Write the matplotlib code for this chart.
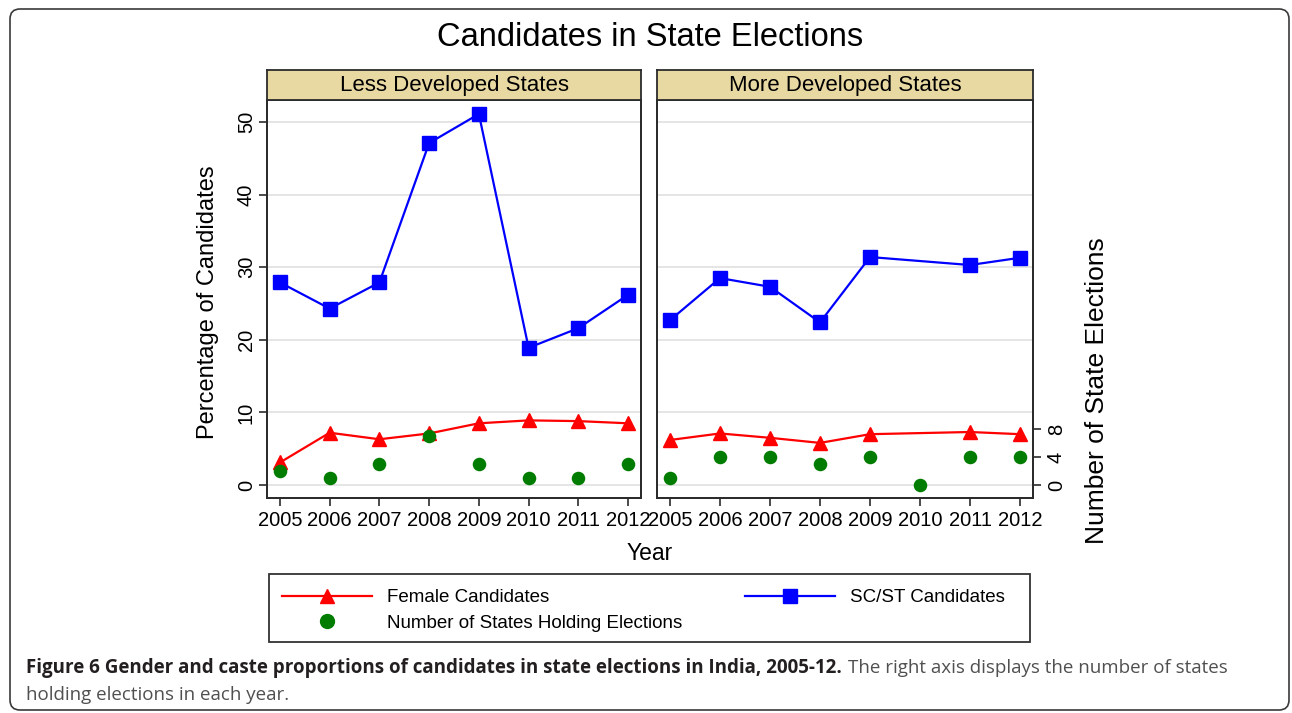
import numpy as np
import matplotlib.pyplot as plt
from matplotlib.patches import FancyBboxPatch, Rectangle
from matplotlib.lines import Line2D

plt.rcParams['font.family'] = ['Liberation Sans', 'DejaVu Sans']

years = [2005, 2006, 2007, 2008, 2009, 2010, 2011, 2012]
panel_titles = ['Less Developed States', 'More Developed States']

# percentage of candidates (left axis); nan = no value that year
scst = [
    [27.9, 24.3, 27.9, 47.1, 51.1, 18.9, 21.6, 26.2],
    [22.7, 28.5, 27.3, 22.4, 31.4, np.nan, 30.3, 31.3],
]
female = [
    [3.1, 7.2, 6.3, 7.1, 8.5, 8.9, 8.8, 8.5],
    [6.2, 7.1, 6.5, 5.8, 7.0, np.nan, 7.3, 7.0],
]
# number of states holding elections (right axis)
n_states = [
    [2, 1, 3, 7, 3, 1, 1, 3],
    [1, 4, 4, 3, 4, 0, 4, 4],
]

W, H = 1292, 713
fig = plt.figure(figsize=(W / 100, H / 100), dpi=100)


def box(x0, y0, x1, y1):
    # pixel box (top-left origin) -> figure fraction rect
    return [x0 / W, 1 - y1 / H, (x1 - x0) / W, (y1 - y0) / H]


def fpt(x, y):
    return (x / W, 1 - y / H)


# background axes in pixel units for the frames
bg = fig.add_axes([0, 0, 1, 1])
bg.set_xlim(0, W)
bg.set_ylim(H, 0)
bg.axis('off')
bg.add_patch(FancyBboxPatch((10, 9), 1279, 701, boxstyle='round,pad=0,rounding_size=10',
                            fc='none', ec='#3a3a3a', lw=1.2))
bg.add_patch(Rectangle((269, 574), 761, 68, fc='white', ec='#333333', lw=1.3))

SPINE = '#2b2b2b'
panel_px = [(267, 641), (657, 1033)]
x_years = np.array(years)

for i, (x0, x1) in enumerate(panel_px):
    ax = fig.add_axes(box(x0, 100, x1, 498))
    ax.set_xlim(2004.74, 2012.26)
    ax.set_ylim(-1.79, 53.03)
    ax.set_yticks([0, 10, 20, 30, 40, 50])
    ax.grid(axis='y', color='#e3e3e3', lw=1.3, solid_capstyle='butt')
    ax.set_axisbelow(True)
    for s in ax.spines.values():
        s.set_color(SPINE)
        s.set_linewidth(1.3)
    ax.set_xticks(years)
    ax.set_xticklabels([str(y) for y in years])
    ax.tick_params(axis='x', length=6, width=1.2, color=SPINE, labelsize=14.5, pad=3)
    if i == 0:
        ax.tick_params(axis='y', length=6, width=1.2, color=SPINE, labelsize=14.5,
                       labelrotation=90, pad=2)
        for lab in ax.get_yticklabels():
            lab.set_va('center')
    else:
        ax.tick_params(axis='y', which='both', left=False, right=False,
                       labelleft=False, length=0)

    s_arr = np.array(scst[i])
    f_arr = np.array(female[i])
    ms = ~np.isnan(s_arr)
    mf = ~np.isnan(f_arr)
    ax.plot(x_years[mf], f_arr[mf], color='#ff0000', lw=1.6, marker='^', ms=10.5, zorder=3)
    ax.plot(x_years[ms], s_arr[ms], color='#0000ff', lw=1.6, marker='s', ms=10, zorder=3)

    ax2 = ax.twinx()
    ax2.set_ylim(-1.857, 55.0)
    ax2.scatter(years, n_states[i], color='#007d00', s=95, zorder=4, linewidths=0)
    for s in ax2.spines.values():
        s.set_color(SPINE)
        s.set_linewidth(1.3)
    if i == 1:
        ax2.set_yticks([0, 4, 8])
        ax2.tick_params(axis='y', length=6, width=1.2, color=SPINE, labelsize=14.5,
                        labelrotation=90, pad=4)
        for lab in ax2.get_yticklabels():
            lab.set_va('center')
    else:
        ax2.set_yticks([])

    hdr = fig.add_axes(box(x0, 70, x1, 100))
    hdr.set_facecolor('#e8d8a2')
    hdr.set_xticks([])
    hdr.set_yticks([])
    for s in hdr.spines.values():
        s.set_color(SPINE)
        s.set_linewidth(1.3)
    hdr.text(0.5, 0.47, panel_titles[i], ha='center', va='center', fontsize=16,
             transform=hdr.transAxes)

fig.text(650 / W, 1 - 38 / H, 'Candidates in State Elections', ha='center', va='center',
         fontsize=23.5)
fig.text(650 / W, 1 - 553 / H, 'Year', ha='center', va='center', fontsize=16.5)
fig.text(208 / W, 1 - 302 / H, 'Percentage of Candidates', ha='center', va='center',
         rotation=90, fontsize=17)
fig.text(1097 / W, 1 - 391 / H, 'Number of State Elections', ha='center', va='center',
         rotation=90, fontsize=19)

# legend: two frameless legends inside the drawn box
h_female = Line2D([], [], color='#ff0000', lw=1.6, marker='^', ms=10.5)
h_states = Line2D([], [], color='#007d00', lw=0, marker='o', ms=10)
h_scst = Line2D([], [], color='#0000ff', lw=1.6, marker='s', ms=10)
leg_kw = dict(loc='upper left', borderaxespad=0, borderpad=0, handlelength=4.8,
              handletextpad=0.8, labelspacing=0.45, fontsize=13.5, frameon=False)
fig.legend([h_female, h_states],
           ['Female Candidates', 'Number of States Holding Elections'],
           bbox_to_anchor=fpt(282, 589), **leg_kw)
fig.legend([h_scst], ['SC/ST Candidates'], bbox_to_anchor=fpt(745, 589), **leg_kw)

# caption: bold lead-in followed by regular text
renderer = fig.canvas.get_renderer()
t1 = fig.text(26 / W, 1 - 673 / H,
              'Figure 6 Gender and caste proportions of candidates in state elections in India, 2005-12.',
              fontsize=13.5, fontweight='bold', family='Open Sans', color='#231f20',
              ha='left', va='baseline')
bb = t1.get_window_extent(renderer=renderer)
fig.text(bb.x1 / W + 6 / W, 1 - 673 / H, 'The right axis displays the number of states',
         fontsize=13.5, family='Open Sans', color='#505050', ha='left', va='baseline')
fig.text(26 / W, 1 - 700 / H, 'holding elections in each year.',
         fontsize=13.5, family='Open Sans', color='#505050', ha='left', va='baseline')

fig.savefig('out.png', dpi=100)
